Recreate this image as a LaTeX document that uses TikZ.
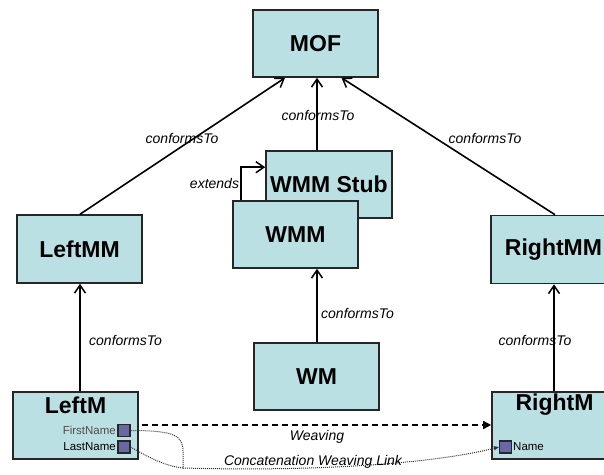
\documentclass[tikz,border=0pt]{standalone}
\usepackage{fontspec}
\setmainfont{Liberation Sans}
\usetikzlibrary{arrows.meta,calc}
\definecolor{boxfill}{HTML}{BBE0E3}
\definecolor{slotfill}{HTML}{6A67A6}
\begin{document}
\begin{tikzpicture}[x=1pt,y=-1pt,
  box/.style={draw=black!85,fill=boxfill,line width=1.6pt,minimum width=125pt,
    minimum height=67pt,inner sep=0pt,font=\bfseries\fontsize{23}{26}\selectfont},
  boxtitle/.style={inner sep=0pt,font=\bfseries\fontsize{23}{26}\selectfont},
  rel/.style={line width=1.6pt,-{Straight Barb[length=8pt,width=11pt,line width=1.5pt]}},
  lbl/.style={font=\itshape\fontsize{14}{16}\selectfont,inner sep=0pt},
  slot/.style={draw=black!85,fill=slotfill,line width=1.1pt,minimum size=12pt,inner sep=0pt},
  slotlbl/.style={font=\fontsize{11.5}{13}\selectfont,inner sep=0pt},
  weave/.style={line width=1.6pt,dash pattern=on 6pt off 4pt,-{Triangle[length=8pt,width=8pt]}},
  concat/.style={line width=1pt,black!80,dash pattern=on 1pt off 1pt}
]
\useasboundingbox (0,0) rectangle (604,474);

% metamodel boxes
\node[box] (mof) at (315.5,43.5) {MOF};
\node[box,minimum width=126pt] (stub) at (329,184.5) {WMM Stub};
\node[box] (wmm) at (295.5,234.5) {WMM};
\node[box,minimum height=68pt] (lmm) at (79.5,249) {LeftMM};
\node[box,minimum height=68pt] (rmm) at (553.5,249.5) {RightMM};
\node[box] (wm) at (316.5,376.5) {WM};

% model boxes with their elements
\node[box] (lm) at (75.5,425.5) {};
\node[box] (rm) at (554.5,425.5) {};
\node[boxtitle] (lmt) at (75.5,405) {LeftM};
\node[boxtitle] (rmt) at (554.5,405) {RightM};

\node[slot] (fn) at (124,430.5) {};
\node[slot] (ln) at (124,447) {};
\node[slot] (nm) at (505.5,447) {};
\node[slotlbl,anchor=east,text=black!70] (fnl) at (116,430.5) {FirstName};
\node[slotlbl,anchor=east] (lnl) at (116,447) {LastName};
\node[slotlbl,anchor=west] (nml) at (513,447) {Name};

% conformance relations
\draw[rel] ($(lmm.north)+(0.5,0)$) -- ($(mof.south)+(-30.5,0)$);
\draw[rel] ($(stub.north)+(-12,0)$) -- ($(mof.south)+(1.5,0)$);
\draw[rel] ($(rmm.north)+(1.5,0)$) -- ($(mof.south)+(26,0)$);
\draw[rel] ($(wm.north)+(0.5,0)$) -- ($(wmm.south)+(21.5,0)$);
\draw[rel] ($(lm.north)+(4.5,0)$) -- ($(lmm.south)+(0.5,0)$);
\coordinate (rup) at ($(rm.north)+(-0.5,0)$);
\draw[rel] (rup) -- (rup |- rmm.south);

% extension of the stub
\coordinate (ext) at ($(stub.north west)+(0,17)$);
\draw[rel] ($(wmm.north west)+(9,0)$) |- (ext);

% weaving links
\coordinate (ws) at (142,425);
\draw[weave] (ws) -- (ws -| rm.west);
\coordinate (jn) at (183,468);
\draw[concat] (fn.east) .. controls (176,430.5) and (183,436) .. (183,452) -- (jn);
\draw[concat] (ln.east) .. controls (150,458) and (165,466) .. (jn);
\draw[concat,-{Triangle[length=5pt,width=4pt]}] (jn) .. controls (330,472) and (440,462) .. (nm.west);

% labels
\node[lbl] (c1) at (182,138) {conformsTo};
\node[lbl] (c2) at (318,115) {conformsTo};
\node[lbl] (c3) at (485,138) {conformsTo};
\node[lbl] (c4) at (125.5,340) {conformsTo};
\node[lbl] (c5) at (357.5,313) {conformsTo};
\node[lbl] (c6) at (535,340) {conformsTo};
\node[lbl] (ex) at (214.5,183) {extends};
\node[lbl] (wv) at (317,437) {Weaving};
\node[lbl] (cw) at (313,462) {Concatenation Weaving Link};
\end{tikzpicture}
\end{document}
